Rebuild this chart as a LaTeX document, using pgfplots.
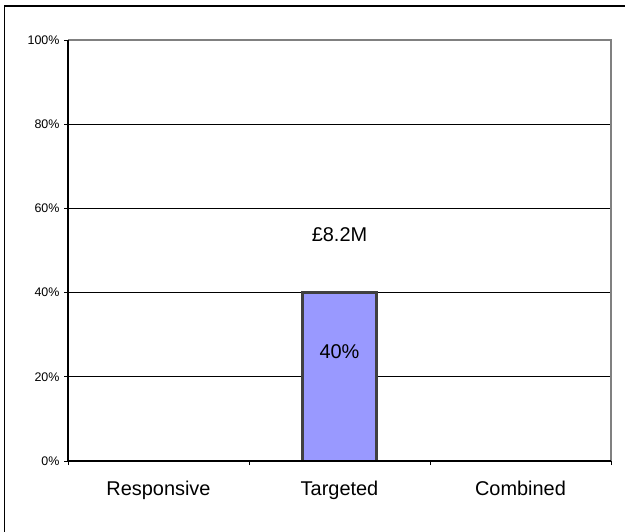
\documentclass[border=0pt]{standalone}
\usepackage{fontspec}
\setmainfont{Liberation Sans}
\usepackage{pgfplots}
\pgfplotsset{compat=1.18}
\definecolor{barblue}{HTML}{9999FF}
\begin{document}
\begin{tikzpicture}
\path[use as bounding box] (0,0) rectangle (625bp,532bp);
\draw[line width=1.3bp] (4.5bp,-2bp) -- (4.5bp,526bp) -- (627bp,526bp);
\begin{axis}[at={(68bp,71bp)}, anchor=south west, scale only axis,
  width=543bp, height=421bp,
  xmin=0, xmax=3, ymin=0, ymax=100,
  axis line style={draw=none},
  ytick={0,20,...,100},
  yticklabel={\pgfmathprintnumber{\tick}\%},
  /pgf/number format/assume math mode=true,
  yticklabel style={font=\fontsize{12.5}{13}\selectfont, xshift=-1bp},
  ymajorgrids, grid style={black, line width=0.8bp},
  xtick={0,1,2,3}, xticklabels={},
  extra x ticks={0.5,1.5,2.5},
  extra x tick labels={Responsive,Targeted,Combined},
  extra x tick style={major tick length=0pt, xticklabel style={font=\fontsize{20}{20}\selectfont, yshift=-17bp}},
  xtick pos=bottom, ytick pos=left, tick align=outside,
  major tick length=4bp, tick style={black, line width=0.8bp},
  clip=false,
]
\addplot[ybar, bar width=74bp, fill=barblue, draw=black!75, line width=2.2bp]
  coordinates {(0.5,0) (1.5,40) (2.5,0)};
\draw[gray, line width=1.3bp] (rel axis cs:0,1) -- (rel axis cs:1,1) -- (rel axis cs:1,0);
\draw[black, line width=1.2bp] (rel axis cs:0,1) -- (rel axis cs:0,0) -- (rel axis cs:1,0);
\node[font=\fontsize{20}{20}\selectfont] at (axis cs:1.5,53.7) {£8.2M};
\node[font=\fontsize{20}{20}\selectfont] at (axis cs:1.5,25.9) {40\%};
\end{axis}
\end{tikzpicture}
\end{document}
